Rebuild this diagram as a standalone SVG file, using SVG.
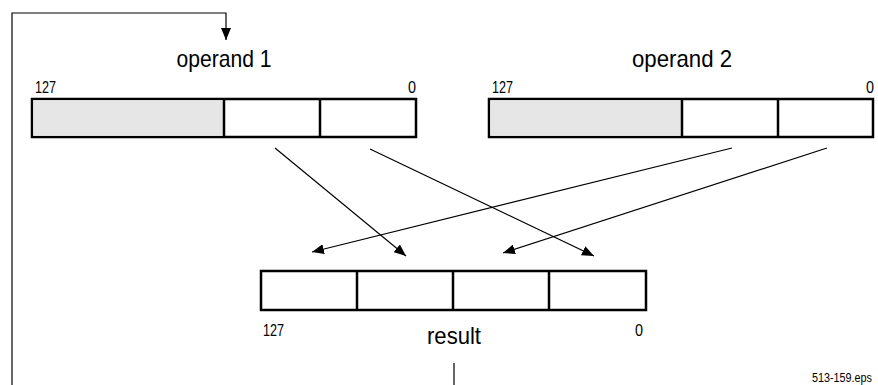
<svg xmlns="http://www.w3.org/2000/svg" width="878" height="385" viewBox="0 0 878 385">
<style>
.box{fill:#fff;stroke:#000;stroke-width:2.5}
.gray{fill:#e6e6e6}
.div{stroke:#000;stroke-width:2.5}
.con{stroke:#000;stroke-width:1.2;fill:none}
.lbl{font-family:"Liberation Sans",Arial,sans-serif;font-size:24px;fill:#000}
.num{font-family:"Liberation Sans",Arial,sans-serif;font-size:16px;fill:#000}
.tag{font-family:"Liberation Sans",Arial,sans-serif;font-size:12px;fill:#000}
</style>
<defs>
<marker id="ah" viewBox="0 0 12 10" refX="12" refY="5" markerWidth="12" markerHeight="10" markerUnits="userSpaceOnUse" orient="auto">
<path d="M0,0 L12,5 L0,10 Z" fill="#000"/>
</marker>
</defs>
<g id="operand1">
<rect class="box" x="32" y="99" width="384" height="38"/>
<rect class="gray" x="33.25" y="100.25" width="190.75" height="35.5"/>
<line class="div" x1="224" y1="99" x2="224" y2="137"/>
<line class="div" x1="320" y1="99" x2="320" y2="137"/>
<text class="lbl" x="224" y="67" text-anchor="middle" textLength="95" lengthAdjust="spacingAndGlyphs">operand 1</text>
<text class="num" x="35" y="93" textLength="21" lengthAdjust="spacingAndGlyphs">127</text>
<text class="num" x="416" y="93" text-anchor="end" textLength="8" lengthAdjust="spacingAndGlyphs">0</text>
</g>
<g id="operand2">
<rect class="box" x="489" y="99" width="384" height="38"/>
<rect class="gray" x="490.25" y="100.25" width="191.75" height="35.5"/>
<line class="div" x1="682" y1="99" x2="682" y2="137"/>
<line class="div" x1="778" y1="99" x2="778" y2="137"/>
<text class="lbl" x="682" y="67" text-anchor="middle" textLength="100" lengthAdjust="spacingAndGlyphs">operand 2</text>
<text class="num" x="492" y="93" textLength="21" lengthAdjust="spacingAndGlyphs">127</text>
<text class="num" x="874" y="93" text-anchor="end" textLength="8" lengthAdjust="spacingAndGlyphs">0</text>
</g>
<g id="result">
<rect class="box" x="261" y="271" width="385" height="39"/>
<line class="div" x1="357" y1="271" x2="357" y2="310"/>
<line class="div" x1="453" y1="271" x2="453" y2="310"/>
<line class="div" x1="549" y1="271" x2="549" y2="310"/>
<text class="lbl" x="454" y="344" text-anchor="middle" textLength="54" lengthAdjust="spacingAndGlyphs">result</text>
<text class="num" x="263" y="336" textLength="21" lengthAdjust="spacingAndGlyphs">127</text>
<text class="num" x="643" y="336" text-anchor="end" textLength="8" lengthAdjust="spacingAndGlyphs">0</text>
</g>
<g id="connectors">
<polyline class="con" points="12,385 12,13 226,13 226,40" marker-end="url(#ah)"/>
<line class="con" x1="454" y1="363" x2="454" y2="385"/>
<line class="con" x1="275" y1="148" x2="406" y2="256" marker-end="url(#ah)"/>
<line class="con" x1="370" y1="149" x2="594" y2="256" marker-end="url(#ah)"/>
<line class="con" x1="732" y1="148" x2="312" y2="252" marker-end="url(#ah)"/>
<line class="con" x1="827" y1="148" x2="503" y2="253" marker-end="url(#ah)"/>
</g>
<text class="tag" x="812" y="382" textLength="60" lengthAdjust="spacingAndGlyphs">513-159.eps</text>
</svg>
